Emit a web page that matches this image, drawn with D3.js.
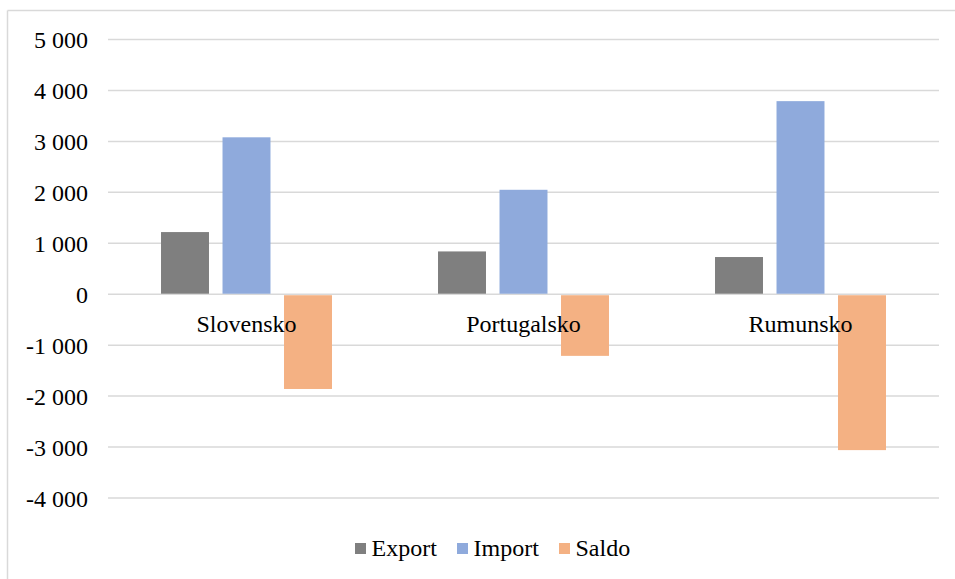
<!DOCTYPE html>
<html>
<head>
<meta charset="utf-8">
<script src="https://cdn.jsdelivr.net/npm/d3@7"></script>
</head>
<body style="margin:0;padding:0;background:#fff">
<svg id="viz" width="955" height="579" style="display:block"></svg>
<script>
const categories = ["Slovensko", "Portugalsko", "Rumunsko"];
const seriesNames = ["Export", "Import", "Saldo"];
const exportValues = [1220, 840, 730];
const importValues = [3080, 2050, 3790];
const saldoValues = [-1860, -1210, -3060];
const tickValues = [-4000, -3000, -2000, -1000, 0, 1000, 2000, 3000, 4000, 5000];
const colors = ["#7f7f7f", "#8faadc", "#f4b183"];

const seriesValues = [exportValues, importValues, saldoValues];
const FONT = "'Liberation Serif', 'Times New Roman', serif";

const svg = d3.select("#viz");
const W = 955, H = 579;

function serif(sel) {
  return sel.style("font-family", FONT).style("font-size", "24px").style("fill", "#000");
}

// chart border (left and top visible)
svg.append("line").attr("x1", 7.5).attr("x2", 7.5).attr("y1", 10.5).attr("y2", H)
  .attr("stroke", "#d9d9d9").attr("stroke-width", 1.5);
svg.append("line").attr("x1", 7.5).attr("x2", W).attr("y1", 10.5).attr("y2", 10.5)
  .attr("stroke", "#d9d9d9").attr("stroke-width", 1.5);

const plot = { left: 108, right: 939, top: 39.5, bottom: 498 };

const y = d3.scaleLinear().domain([-4000, 5000]).range([plot.bottom, plot.top]);
const x0 = d3.scaleBand().domain(categories).range([plot.left, plot.right]).padding(0);
const x1 = d3.scaleBand().domain(seriesNames).range([0, x0.bandwidth()])
  .paddingInner(0.22).paddingOuter(0.862);

const loc = d3.formatLocale({ decimal: ",", thousands: " ", grouping: [3], currency: ["", ""], minus: "-" });
const fmt = loc.format(",d");

// gridlines
svg.append("g").selectAll("line").data(tickValues).join("line")
  .attr("x1", plot.left).attr("x2", plot.right)
  .attr("y1", d => y(d)).attr("y2", d => y(d))
  .attr("stroke", "#d9d9d9").attr("stroke-width", 1.5);

// y axis labels
const yAxis = d3.axisLeft(y).tickValues(tickValues).tickFormat(fmt).tickSize(0).tickPadding(0);
const gy = svg.append("g").attr("transform", `translate(88,0)`).call(yAxis);
gy.attr("font-family", null).attr("font-size", null);
gy.select(".domain").remove();
serif(gy.selectAll("text")).attr("dy", "0.34em");

// bars
const groups = svg.append("g").selectAll("g").data(categories).join("g")
  .attr("transform", d => `translate(${x0(d)},0)`);
groups.selectAll("rect")
  .data((c, i) => seriesNames.map((s, j) => ({ s, v: seriesValues[j][i], j })))
  .join("rect")
  .attr("x", d => x1(d.s))
  .attr("width", x1.bandwidth())
  .attr("y", d => d.v >= 0 ? y(d.v) : y(0) + 1)
  .attr("height", d => d.v >= 0 ? y(0) - y(d.v) - 0.5 : y(d.v) - y(0) - 1)
  .attr("fill", d => colors[d.j]);

// category labels
serif(svg.append("g").selectAll("text").data(categories).join("text")
  .attr("x", d => x0(d) + x0.bandwidth() / 2)
  .attr("y", 332)
  .attr("text-anchor", "middle"))
  .text(d => d);

// legend
const legendX = [355, 457, 559];
const leg = svg.append("g").selectAll("g").data(seriesNames).join("g")
  .attr("transform", (d, i) => `translate(${legendX[i]},0)`);
leg.append("rect").attr("x", 0).attr("y", 543).attr("width", 11).attr("height", 11)
  .attr("fill", (d, i) => colors[i]);
serif(leg.append("text").attr("x", 16.5).attr("y", 556)).text(d => d);
</script>
</body>
</html>
